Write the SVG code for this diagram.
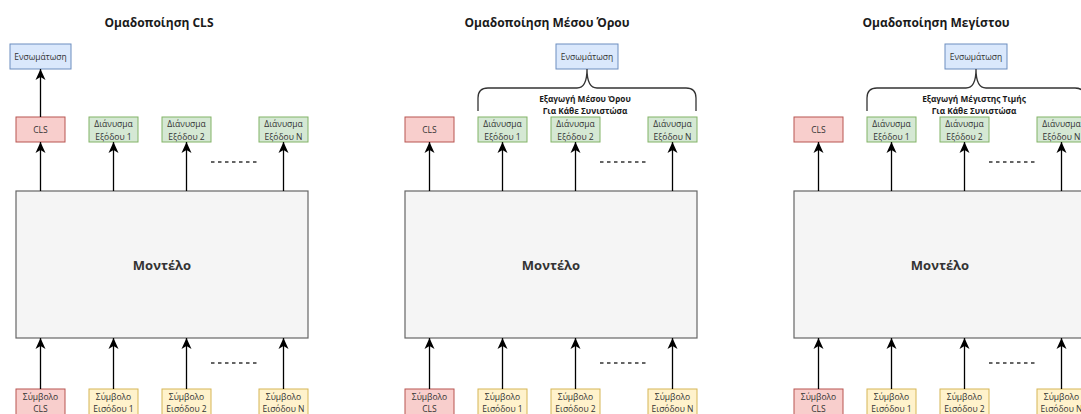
<svg xmlns="http://www.w3.org/2000/svg" width="1081" height="414" viewBox="0 0 1081 414">
<style>
.title{font-family:"Open Sans","DejaVu Sans",sans-serif;font-size:12px;font-weight:bold;fill:#1a1a1a;text-anchor:middle}
.lbl{font-family:"Open Sans","DejaVu Sans",sans-serif;font-size:8.5px;fill:#333;text-anchor:middle}
.blbl{font-family:"Open Sans","DejaVu Sans",sans-serif;font-size:8.3px;font-weight:bold;fill:#1a1a1a;text-anchor:middle}
.model{font-family:"Open Sans","DejaVu Sans",sans-serif;font-size:13px;font-weight:bold;fill:#333;text-anchor:middle}
.blue{fill:#dae8fc;stroke:#6c8ebf;stroke-width:1}
.red{fill:#f8cecc;stroke:#b85450;stroke-width:1}
.green{fill:#d5e8d4;stroke:#82b366;stroke-width:1}
.yellow{fill:#fff2cc;stroke:#d6b656;stroke-width:1}
.gray{fill:#f5f5f5;stroke:#666;stroke-width:1.2}
.arr{stroke:#000;stroke-width:1.3;fill:none;marker-end:url(#ah)}
.dash{stroke:#333;stroke-width:1.3;stroke-dasharray:3.5,3.5;fill:none}
.brace{stroke:#333;stroke-width:1.3;fill:none}
</style>
<defs>
<marker id="ah" markerUnits="userSpaceOnUse" markerWidth="12" markerHeight="12" viewBox="0 0 12 12" refX="11" refY="6" orient="auto">
<path d="M0,1 L11,6 L0,11 L3,6 Z" fill="#000"/>
</marker>
</defs>
<rect width="1081" height="414" fill="#fff"/>

<!-- Panel 1 -->
<g id="panel-cls">
<text class="title" x="159" y="27">Ομαδοποίηση CLS</text>
<g id="p1-model"><rect class="gray" x="16" y="191" width="292" height="147"/><text class="model" x="162" y="270">Μοντέλο</text></g>
<g id="p1-embed"><rect class="blue" x="10" y="44" width="61" height="25"/><text class="lbl" x="40.5" y="59.5">Ενσωμάτωση</text></g>
<g id="p1-cls-out"><rect class="red" x="16" y="117" width="49" height="25"/><text class="lbl" x="40.5" y="132.5">CLS</text></g>
<g id="p1-out1"><rect class="green" x="89" y="117" width="49" height="25"/><text class="lbl" x="113.5" y="127">Διάνυσμα</text><text class="lbl" x="113.5" y="139.5">Εξόδου 1</text></g>
<g id="p1-out2"><rect class="green" x="162" y="117" width="49" height="25"/><text class="lbl" x="186.5" y="127">Διάνυσμα</text><text class="lbl" x="186.5" y="139.5">Εξόδου 2</text></g>
<g id="p1-outN"><rect class="green" x="259" y="117" width="49" height="25"/><text class="lbl" x="283.5" y="127">Διάνυσμα</text><text class="lbl" x="283.5" y="139.5">Εξόδου N</text></g>
<g id="p1-in-cls"><rect class="red" x="16" y="389" width="49" height="30"/><text class="lbl" x="40.5" y="399.5">Σύμβολο</text><text class="lbl" x="40.5" y="412">CLS</text></g>
<g id="p1-in1"><rect class="yellow" x="89" y="389" width="49" height="30"/><text class="lbl" x="113.5" y="399.5">Σύμβολο</text><text class="lbl" x="113.5" y="412">Εισόδου 1</text></g>
<g id="p1-in2"><rect class="yellow" x="162" y="389" width="49" height="30"/><text class="lbl" x="186.5" y="399.5">Σύμβολο</text><text class="lbl" x="186.5" y="412">Εισόδου 2</text></g>
<g id="p1-inN"><rect class="yellow" x="259" y="389" width="49" height="30"/><text class="lbl" x="283.5" y="399.5">Σύμβολο</text><text class="lbl" x="283.5" y="412">Εισόδου N</text></g>
<g id="p1-connectors">
<line class="arr" x1="40.5" y1="117" x2="40.5" y2="69"/>
<line class="arr" x1="40.5" y1="191" x2="40.5" y2="142"/>
<line class="arr" x1="113.5" y1="191" x2="113.5" y2="142"/>
<line class="arr" x1="186.5" y1="191" x2="186.5" y2="142"/>
<line class="arr" x1="283.5" y1="191" x2="283.5" y2="142"/>
<line class="arr" x1="40.5" y1="389" x2="40.5" y2="338"/>
<line class="arr" x1="113.5" y1="389" x2="113.5" y2="338"/>
<line class="arr" x1="186.5" y1="389" x2="186.5" y2="338"/>
<line class="arr" x1="283.5" y1="389" x2="283.5" y2="338"/>
<line class="dash" x1="211" y1="162" x2="259" y2="162"/>
<line class="dash" x1="211" y1="363" x2="259" y2="363"/>
</g>
</g>

<!-- Panel 2 -->
<g id="panel-mean">
<text class="title" x="547" y="27">Ομαδοποίηση Μέσου Όρου</text>
<g id="p2-model"><rect class="gray" x="405" y="191" width="292" height="147"/><text class="model" x="551" y="270">Μοντέλο</text></g>
<g id="p2-embed"><rect class="blue" x="556" y="44" width="62" height="25"/><text class="lbl" x="587" y="59.5">Ενσωμάτωση</text></g>
<g id="p2-cls-out"><rect class="red" x="405" y="117" width="49" height="25"/><text class="lbl" x="429.5" y="132.5">CLS</text></g>
<g id="p2-out1"><rect class="green" x="478" y="117" width="49" height="25"/><text class="lbl" x="502.5" y="127">Διάνυσμα</text><text class="lbl" x="502.5" y="139.5">Εξόδου 1</text></g>
<g id="p2-out2"><rect class="green" x="551" y="117" width="49" height="25"/><text class="lbl" x="575.5" y="127">Διάνυσμα</text><text class="lbl" x="575.5" y="139.5">Εξόδου 2</text></g>
<g id="p2-outN"><rect class="green" x="648" y="117" width="49" height="25"/><text class="lbl" x="672.5" y="127">Διάνυσμα</text><text class="lbl" x="672.5" y="139.5">Εξόδου N</text></g>
<g id="p2-in-cls"><rect class="red" x="405" y="389" width="49" height="30"/><text class="lbl" x="429.5" y="399.5">Σύμβολο</text><text class="lbl" x="429.5" y="412">CLS</text></g>
<g id="p2-in1"><rect class="yellow" x="478" y="389" width="49" height="30"/><text class="lbl" x="502.5" y="399.5">Σύμβολο</text><text class="lbl" x="502.5" y="412">Εισόδου 1</text></g>
<g id="p2-in2"><rect class="yellow" x="551" y="389" width="49" height="30"/><text class="lbl" x="575.5" y="399.5">Σύμβολο</text><text class="lbl" x="575.5" y="412">Εισόδου 2</text></g>
<g id="p2-inN"><rect class="yellow" x="648" y="389" width="49" height="30"/><text class="lbl" x="672.5" y="399.5">Σύμβολο</text><text class="lbl" x="672.5" y="412">Εισόδου N</text></g>
<g id="p2-brace"><path class="brace" d="M478,111 L478,98 Q478,88 488,88 L577,88 Q587,88 587,69 Q587,88 597,88 L686,88 Q696,88 696,98 L696,111"/>
<text class="blbl" x="585" y="102">Εξαγωγή Μέσου Όρου</text><text class="blbl" x="585" y="113.5">Για Κάθε Συνιστώσα</text></g>
<g id="p2-connectors">
<line class="arr" x1="429.5" y1="191" x2="429.5" y2="142"/>
<line class="arr" x1="502.5" y1="191" x2="502.5" y2="142"/>
<line class="arr" x1="575.5" y1="191" x2="575.5" y2="142"/>
<line class="arr" x1="672.5" y1="191" x2="672.5" y2="142"/>
<line class="arr" x1="429.5" y1="389" x2="429.5" y2="338"/>
<line class="arr" x1="502.5" y1="389" x2="502.5" y2="338"/>
<line class="arr" x1="575.5" y1="389" x2="575.5" y2="338"/>
<line class="arr" x1="672.5" y1="389" x2="672.5" y2="338"/>
<line class="dash" x1="600" y1="162" x2="648" y2="162"/>
<line class="dash" x1="600" y1="363" x2="648" y2="363"/>
</g>
</g>

<!-- Panel 3 -->
<g id="panel-max">
<text class="title" x="936" y="27">Ομαδοποίηση Μεγίστου</text>
<g id="p3-model"><rect class="gray" x="794" y="191" width="292" height="147"/><text class="model" x="940" y="270">Μοντέλο</text></g>
<g id="p3-embed"><rect class="blue" x="945" y="44" width="62" height="25"/><text class="lbl" x="976" y="59.5">Ενσωμάτωση</text></g>
<g id="p3-cls-out"><rect class="red" x="794" y="117" width="49" height="25"/><text class="lbl" x="818.5" y="132.5">CLS</text></g>
<g id="p3-out1"><rect class="green" x="867" y="117" width="49" height="25"/><text class="lbl" x="891.5" y="127">Διάνυσμα</text><text class="lbl" x="891.5" y="139.5">Εξόδου 1</text></g>
<g id="p3-out2"><rect class="green" x="940" y="117" width="49" height="25"/><text class="lbl" x="964.5" y="127">Διάνυσμα</text><text class="lbl" x="964.5" y="139.5">Εξόδου 2</text></g>
<g id="p3-outN"><rect class="green" x="1037" y="117" width="49" height="25"/><text class="lbl" x="1061.5" y="127">Διάνυσμα</text><text class="lbl" x="1061.5" y="139.5">Εξόδου N</text></g>
<g id="p3-in-cls"><rect class="red" x="794" y="389" width="49" height="30"/><text class="lbl" x="818.5" y="399.5">Σύμβολο</text><text class="lbl" x="818.5" y="412">CLS</text></g>
<g id="p3-in1"><rect class="yellow" x="867" y="389" width="49" height="30"/><text class="lbl" x="891.5" y="399.5">Σύμβολο</text><text class="lbl" x="891.5" y="412">Εισόδου 1</text></g>
<g id="p3-in2"><rect class="yellow" x="940" y="389" width="49" height="30"/><text class="lbl" x="964.5" y="399.5">Σύμβολο</text><text class="lbl" x="964.5" y="412">Εισόδου 2</text></g>
<g id="p3-inN"><rect class="yellow" x="1037" y="389" width="49" height="30"/><text class="lbl" x="1061.5" y="399.5">Σύμβολο</text><text class="lbl" x="1061.5" y="412">Εισόδου N</text></g>
<g id="p3-brace"><path class="brace" d="M867,111 L867,98 Q867,88 877,88 L966,88 Q976,88 976,69 Q976,88 986,88 L1075,88 Q1085,88 1085,98 L1085,111"/>
<text class="blbl" x="974" y="102">Εξαγωγή Μέγιστης Τιμής</text><text class="blbl" x="974" y="113.5">Για Κάθε Συνιστώσα</text></g>
<g id="p3-connectors">
<line class="arr" x1="818.5" y1="191" x2="818.5" y2="142"/>
<line class="arr" x1="891.5" y1="191" x2="891.5" y2="142"/>
<line class="arr" x1="964.5" y1="191" x2="964.5" y2="142"/>
<line class="arr" x1="1061.5" y1="191" x2="1061.5" y2="142"/>
<line class="arr" x1="818.5" y1="389" x2="818.5" y2="338"/>
<line class="arr" x1="891.5" y1="389" x2="891.5" y2="338"/>
<line class="arr" x1="964.5" y1="389" x2="964.5" y2="338"/>
<line class="arr" x1="1061.5" y1="389" x2="1061.5" y2="338"/>
<line class="dash" x1="989" y1="162" x2="1037" y2="162"/>
<line class="dash" x1="989" y1="363" x2="1037" y2="363"/>
</g>
</g>
</svg>
